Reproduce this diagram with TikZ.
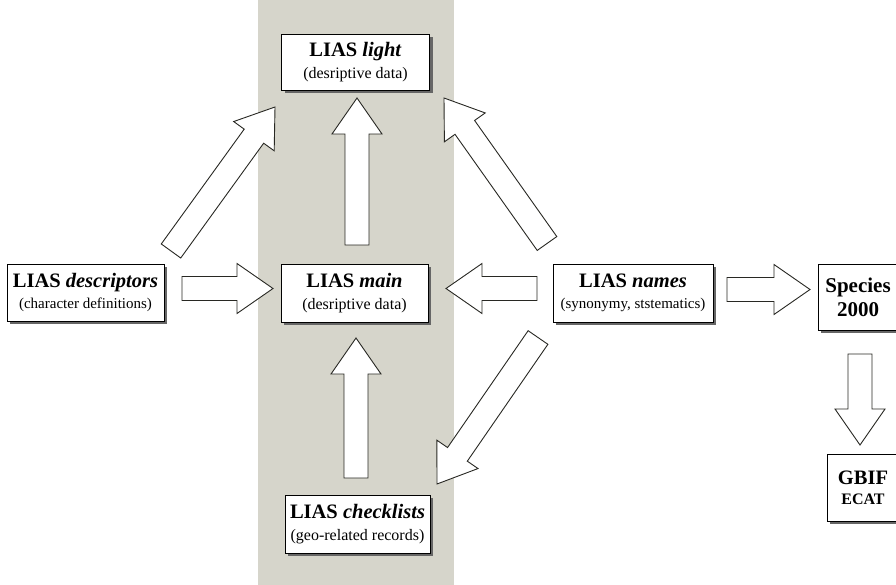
\documentclass[tikz,border=0pt]{standalone}
\usepackage{fontspec}
\setmainfont{Liberation Serif}
\usetikzlibrary{calc,shadows}
\definecolor{band}{RGB}{214,213,203}
\definecolor{edge}{RGB}{40,40,35}
\newcommand\bigtitle{\fontsize{20.5}{22}\selectfont\bfseries}
\newcommand\midsub{\fontsize{16}{22}\selectfont\mdseries}
\newcommand\smallsub{\fontsize{15}{21}\selectfont\mdseries}
\tikzset{
  box/.style={draw=black, line width=0.9pt, fill=white, inner sep=0pt, align=center,
    general shadow={fill=black!60, shadow xshift=3pt, shadow yshift=-3pt}},
  midbox/.style={box, font=\midsub},
  smallbox/.style={box, font=\smallsub},
  barrow/.style={draw=edge, line width=0.9pt, fill=white, line join=miter},
}
\newcommand\blockarrow[2]{%
  \coordinate (hb) at ($(#2)!36pt!(#1)$);
  \draw[barrow] ($(#1)!12pt!90:(#2)$) -- ($(hb)!12pt!90:(#2)$) -- ($(hb)!25pt!90:(#2)$)
    -- (#2) -- ($(hb)!25pt!-90:(#2)$) -- ($(hb)!12pt!-90:(#2)$) -- ($(#1)!12pt!-90:(#2)$) -- cycle;}
\begin{document}
\begin{tikzpicture}[x=1pt,y=-1pt]
\useasboundingbox (0,0) rectangle (896,585);
\fill[band] (258,0) rectangle (454,585);

% nodes
\node[midbox, minimum width=148pt, minimum height=56pt] (light) at (355.5,62)
  {{\bigtitle LIAS \textit{light}}\\(desriptive data)};
\node[midbox, minimum width=147pt, minimum height=58pt] (main) at (354.5,293)
  {{\bigtitle LIAS \textit{main}}\\(desriptive data)};
\node[smallbox, minimum width=157pt, minimum height=57pt] (desc) at (85.5,292.5)
  {{\bigtitle LIAS \textit{descriptors}}\\(character definitions)};
\node[smallbox, minimum width=160pt, minimum height=58pt] (names) at (633,293)
  {{\bigtitle LIAS \textit{names}}\\(synonymy, ststematics)};
\node[midbox, minimum width=145pt, minimum height=58pt] (check) at (357.5,524)
  {{\bigtitle LIAS \textit{checklists}}\\(geo-related records)};
\node[box, font=\fontsize{21}{24}\selectfont\bfseries, minimum width=80pt, minimum height=66pt] (species) at (858,297)
  {Species\\2000};
\node[box, font=\fontsize{16}{20}\selectfont\bfseries, minimum width=72pt, minimum height=67pt] (gbif) at (863,487.5)
  {{\fontsize{20.5}{20}\selectfont GBIF}\\ECAT};

% arrow end points
\coordinate (d1t) at (182,288.5); \coordinate (d1h) at (273,288.5);
\coordinate (n1t) at (537,288.5); \coordinate (n1h) at (446,288.5);
\coordinate (n2t) at (727,289.5); \coordinate (n2h) at (810,289.5);
\coordinate (s1t) at (860,354);   \coordinate (s1h) at (860,445);
\coordinate (m1t) at (357,245);   \coordinate (m1h) at (357,98);
\coordinate (c1t) at (356,478);   \coordinate (c1h) at (356,338);
\coordinate (a1t) at (171,251);   \coordinate (a1h) at (275,107);
\coordinate (a2t) at (547,243.5); \coordinate (a2h) at (444,98);
\coordinate (a3t) at (538,337.5); \coordinate (a3h) at (437,484);

\blockarrow{d1t}{d1h}
\blockarrow{n1t}{n1h}
\blockarrow{n2t}{n2h}
\blockarrow{s1t}{s1h}
\blockarrow{m1t}{m1h}
\blockarrow{c1t}{c1h}
\blockarrow{a1t}{a1h}
\blockarrow{a2t}{a2h}
\blockarrow{a3t}{a3h}
\end{tikzpicture}
\end{document}
